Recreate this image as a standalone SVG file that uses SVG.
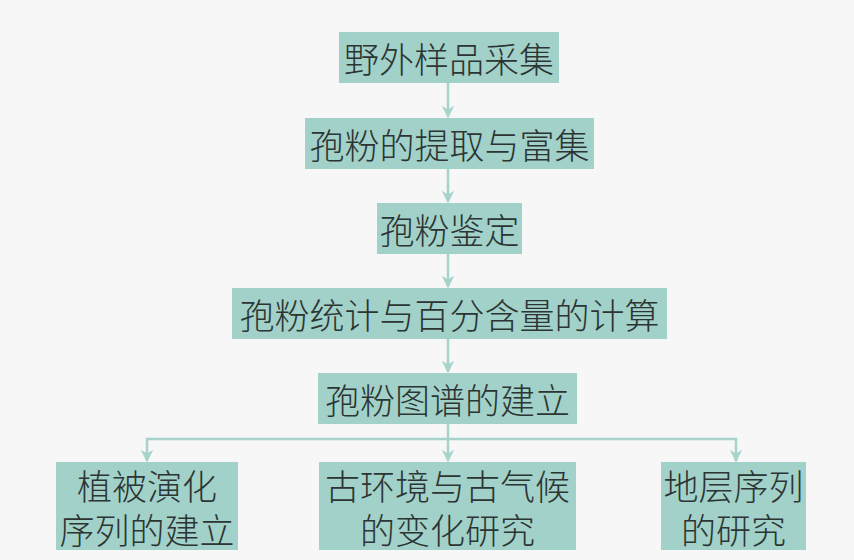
<svg xmlns="http://www.w3.org/2000/svg" width="854" height="560" viewBox="0 0 854 560">
<style>
.box{fill:#a2d1c9;}
.t{font-family:"Noto Sans CJK SC","Noto Sans CJK TC",sans-serif;font-size:35px;font-weight:300;fill:#2c3533;text-anchor:middle;dominant-baseline:central;}
.c{fill:none;stroke:#a6d3cb;stroke-width:2.5;}
</style>
<defs>
<marker id="ah" viewBox="0 0 10 10" refX="9" refY="5" markerWidth="5" markerHeight="5" orient="auto" markerUnits="strokeWidth">
<path d="M0,0 L10,5 L0,10 L3,5 z" fill="#a6d3cb"/>
</marker>
</defs>
<rect width="854" height="560" fill="#f7f7f7"/>
<g id="connectors">
<line class="c" x1="448" y1="83" x2="448" y2="117" marker-end="url(#ah)"/>
<line class="c" x1="448" y1="169" x2="448" y2="202" marker-end="url(#ah)"/>
<line class="c" x1="448" y1="254" x2="448" y2="287" marker-end="url(#ah)"/>
<line class="c" x1="448" y1="339" x2="448" y2="372" marker-end="url(#ah)"/>
<line class="c" x1="448" y1="424" x2="448" y2="461" marker-end="url(#ah)"/>
<polyline class="c" points="147,461 147,439 736,439 736,461"/>
<line class="c" x1="147" y1="452" x2="147" y2="461" marker-end="url(#ah)"/>
<line class="c" x1="736" y1="452" x2="736" y2="461" marker-end="url(#ah)"/>
</g>
<g id="n1"><rect class="box" x="339" y="32" width="220" height="51"/><text class="t" x="449" y="57.5">野外样品采集</text></g>
<g id="n2"><rect class="box" x="305" y="118" width="289" height="51"/><text class="t" x="449.5" y="143.5">孢粉的提取与富集</text></g>
<g id="n3"><rect class="box" x="377" y="203" width="145" height="51"/><text class="t" x="449.5" y="228.5">孢粉鉴定</text></g>
<g id="n4"><rect class="box" x="232" y="288" width="435" height="51"/><text class="t" x="449.5" y="313.5">孢粉统计与百分含量的计算</text></g>
<g id="n5"><rect class="box" x="318" y="373" width="259" height="51"/><text class="t" x="447.5" y="398.5">孢粉图谱的建立</text></g>
<g id="n6"><rect class="box" x="56" y="462" width="182" height="88"/><text class="t"><tspan x="147" y="484">植被演化</tspan><tspan x="147" y="528">序列的建立</tspan></text></g>
<g id="n7"><rect class="box" x="319" y="462" width="257" height="88"/><text class="t"><tspan x="447.5" y="484">古环境与古气候</tspan><tspan x="447.5" y="528">的变化研究</tspan></text></g>
<g id="n8"><rect class="box" x="661" y="462" width="145" height="88"/><text class="t"><tspan x="733.5" y="484">地层序列</tspan><tspan x="733.5" y="528">的研究</tspan></text></g>
</svg>
